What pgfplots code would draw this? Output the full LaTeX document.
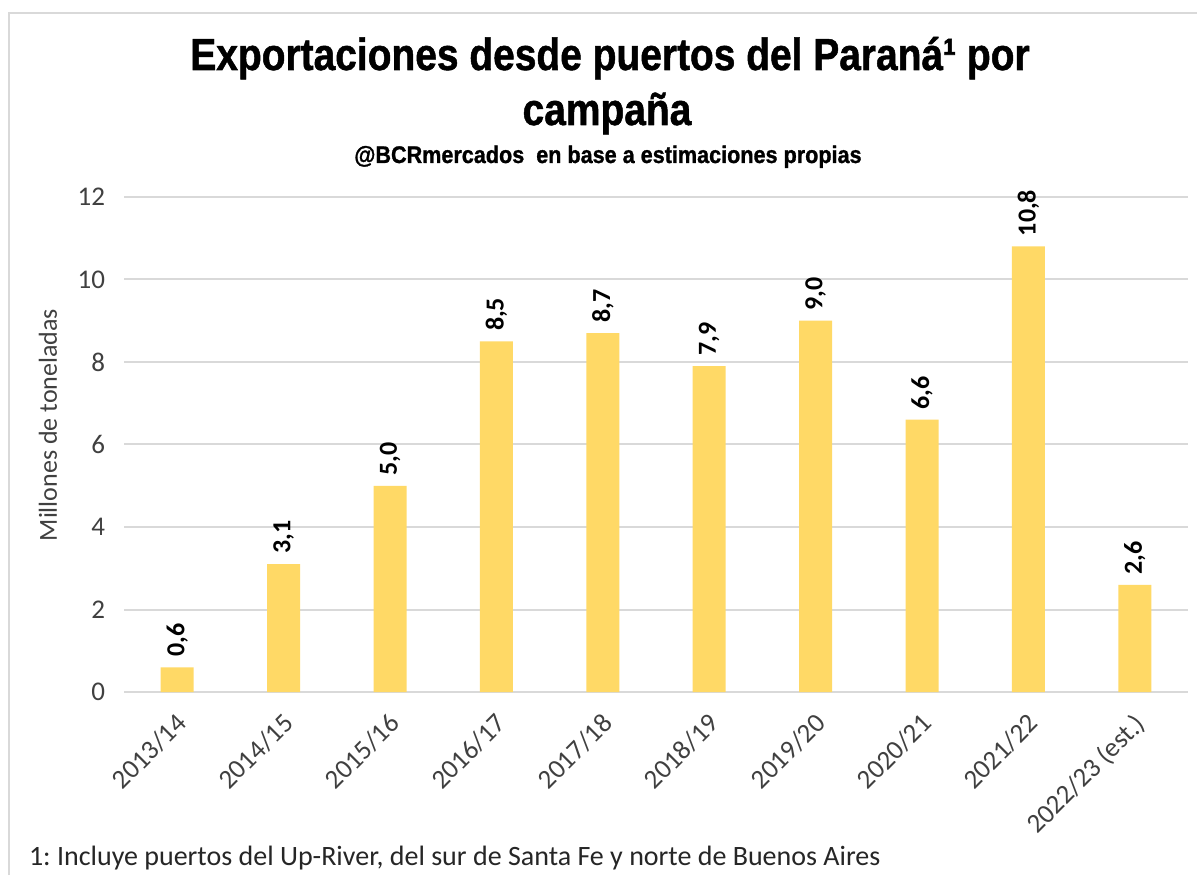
\documentclass[border=0pt]{standalone}
\usepackage{pgfplots}
\pgfplotsset{compat=1.18}
\usepackage{graphicx}
\usepackage{fontspec}
\setmainfont{Carlito}
\newfontfamily\titlefont[BoldFeatures={FakeBold=1.2}]{Liberation Sans}
\definecolor{barc}{HTML}{FFD966}
\definecolor{gridc}{HTML}{D9D9D9}
\definecolor{tickc}{HTML}{404040}
\frenchspacing
\begin{document}
\begin{tikzpicture}
\begin{scope}[x=0.5bp,y=0.5bp,shift={(-124,-183)}]
\useasboundingbox (0,0) rectangle (1197,875);
\fill[white] (0,0) rectangle (1197,875);
\draw[gridc, line width=1bp] (9,0) -- (9,862) -- (1197,862);
\node[anchor=base] at (610,805) {\titlefont\bfseries\fontsize{22.5bp}{26bp}\selectfont\scalebox{0.865}[1]{Exportaciones desde puertos del Paraná¹ por}};
\node[anchor=base] at (607,750) {\titlefont\bfseries\fontsize{22.5bp}{26bp}\selectfont\scalebox{0.865}[1]{campaña}};
\node[anchor=base] at (608,712) {\titlefont\bfseries\fontsize{12bp}{14bp}\selectfont\scalebox{0.9}[1]{@BCRmercados\ \ en base a estimaciones propias}};
\node[rotate=90, anchor=center, text=tickc] at (48,450) {\fontsize{13bp}{15bp}\selectfont Millones de toneladas};
\node[anchor=base west, text=black!85] at (22,10) {\fontsize{14bp}{16bp}\selectfont 1: Incluye puertos del Up-River, del sur de Santa Fe y norte de Buenos Aires};
\end{scope}
\begin{axis}[
  anchor=south west,
  width=532bp, height=247.5bp, scale only axis,
  xmin=-0.5, xmax=9.5, ymin=0, ymax=12,
  ytick={0,2,...,12},
  ymajorgrids, grid style={draw=gridc, line width=1bp},
  axis line style={draw=none}, tick style={draw=none},
  xtick=data,
  xticklabels={2013/14,2014/15,2015/16,2016/17,2017/18,2018/19,2019/20,2020/21,2021/22,2022/23 (est.)},
  /pgf/number format/assume math mode=true,
  ticklabel style={font=\fontsize{13.5bp}{15bp}\selectfont, text=tickc},
  yticklabel style={anchor=east, xshift=-6bp},
  xticklabel style={rotate=45, anchor=north east, inner sep=0pt, xshift=-4.5bp, yshift=-3bp},
  ybar, bar width=16.5bp, bar shift=0pt,
  nodes near coords={\pgfmathprintnumber[assume math mode=true,fixed,fixed zerofill,precision=1,use comma]{\pgfplotspointmeta}},
  nodes near coords style={rotate=90, anchor=west, font=\bfseries\fontsize{13bp}{15bp}\selectfont, text=black, inner sep=5bp},
  clip=false,
]
\addplot[fill=barc, draw=none] coordinates {(0,0.6) (1,3.1) (2,5.0) (3,8.5) (4,8.7) (5,7.9) (6,9.0) (7,6.6) (8,10.8) (9,2.6)};
\end{axis}
\end{tikzpicture}
\end{document}
